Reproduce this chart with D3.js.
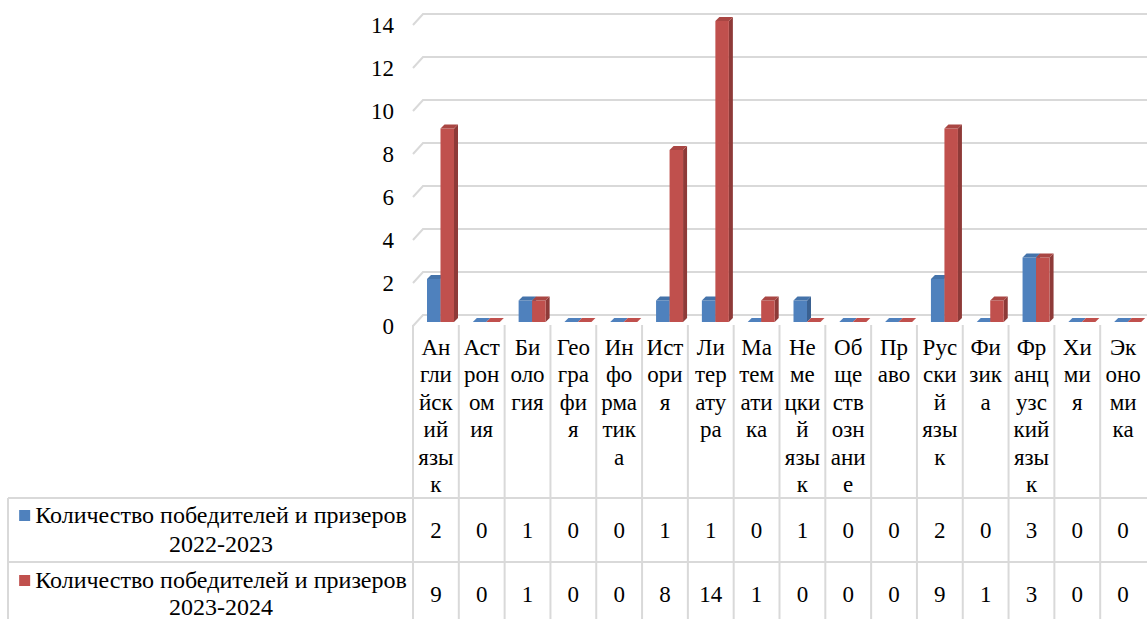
<!DOCTYPE html>
<html>
<head>
<meta charset="utf-8">
<script src="https://cdn.jsdelivr.net/npm/d3@7"></script>
<style>
  body { margin: 0; background: #fff; }
  #chart text { font-family: 'Liberation Serif', 'Times New Roman', serif; fill: #000; }
</style>
</head>
<body>
<svg id="chart" width="1147" height="619"></svg>
<script>
// subjects, with the line breaks Excel used in the data table header
var categories = ["Английский язык", "Астрономия", "Биология", "География", "Информатика",
  "История", "Литература", "Математика", "Немецкий язык", "Обществознание", "Право",
  "Русский язык", "Физика", "Французский язык", "Химия", "Экономика"];
var categoryLines = ["Ан|гли|йск|ий|язы|к", "Аст|рон|ом|ия", "Би|оло|гия", "Гео|гра|фи|я",
  "Ин|фо|рма|тик|а", "Ист|ори|я", "Ли|тер|ату|ра", "Ма|тем|ати|ка", "Не|ме|цки|й|язы|к",
  "Об|ще|ств|озн|ани|е", "Пр|аво", "Рус|ски|й|язы|к", "Фи|зик|а", "Фр|анц|узс|кий|язы|к",
  "Хи|ми|я", "Эк|оно|ми|ка"];

var seriesNames = ["Количество победителей и призеров 2022-2023",
                   "Количество победителей и призеров 2023-2024"];
var seriesLabel = ["Количество победителей и призеров", "Количество победителей и призеров"];
var seriesYears = ["2022-2023", "2023-2024"];
var values2022 = [2, 0, 1, 0, 0, 1, 1, 0, 1, 0, 0, 2, 0, 3, 0, 0];
var values2023 = [9, 0, 1, 0, 0, 8, 14, 1, 0, 0, 0, 9, 1, 3, 0, 0];
var yTicks = [0, 2, 4, 6, 8, 10, 12, 14];

var colors = [
  {front: "#4F81BD", side: "#3A6191", top: "#4473AA"},
  {front: "#C0504D", side: "#8E3A38", top: "#A94643"}
];
var series = [values2022, values2023];

var svg = d3.select("#chart");
var serif = "'Liberation Serif', 'Times New Roman', serif";
var fs = "23px";
var gridColor = "#D9D9D9";
var depth = 4;       // bar depth offset
var wallDx = 10, wallUp = 7, wallDown = 4;

var x = d3.scaleBand().domain(categories).range([413, 1146]).padding(0);
var y = d3.scaleLinear().domain([0, 14]).range([322, 21]);
var bw = x.bandwidth();

// gridlines on the back wall with the little floor diagonal
var grid = svg.append("g");
yTicks.forEach(function(v) {
  var yb = y(v) - wallUp, yf = y(v) + wallDown;
  grid.append("path")
    .attr("d", "M413," + yf + "L" + (413 + wallDx) + "," + yb + "L1147," + yb)
    .attr("fill", "none")
    .attr("stroke", gridColor)
    .attr("stroke-width", 2);
});

// y axis labels
var yAxis = svg.append("g")
  .attr("transform", "translate(397,4.5)")
  .call(d3.axisLeft(y).tickValues(yTicks).tickSize(0).tickPadding(3));
yAxis.attr("font-family", null).attr("font-size", null);
yAxis.select(".domain").remove();
yAxis.selectAll("text")
  .style("font-family", serif)
  .style("font-size", fs)
  .attr("fill", "#000");

// 3D-ish columns
var bars = svg.append("g");
series.forEach(function(vals, s) {
  var c = colors[s];
  vals.forEach(function(v, i) {
    var x0 = x(categories[i]) + 14 + s * 13.5;
    var x1 = x0 + 13.5;
    var yt = y(v), yb = y(0);
    var g = bars.append("g");
    // side
    g.append("path")
      .attr("d", "M" + x1 + "," + yt + "L" + (x1 + depth) + "," + (yt - depth) +
        "L" + (x1 + depth) + "," + (yb - depth) + "L" + x1 + "," + yb + "Z")
      .attr("fill", c.side);
    // front
    if (v > 0) {
      g.append("rect")
        .attr("x", x0).attr("y", yt)
        .attr("width", x1 - x0).attr("height", yb - yt)
        .attr("fill", c.front);
    }
    // top
    g.append("path")
      .attr("d", "M" + x0 + "," + yt + "L" + (x0 + depth) + "," + (yt - depth) +
        "L" + (x1 + depth) + "," + (yt - depth) + "L" + x1 + "," + yt + "Z")
      .attr("fill", v > 0 ? c.top : c.front);
  });
});

// data table
var table = svg.append("g");
var rowTops = [498, 562];
var tableBottom = 640;
x.domain().forEach(function(d) {
  table.append("line")
    .attr("x1", x(d)).attr("x2", x(d))
    .attr("y1", 325).attr("y2", tableBottom)
    .attr("stroke", gridColor).attr("stroke-width", 2);
});
table.append("line")
  .attr("x1", 8).attr("x2", 8).attr("y1", rowTops[0]).attr("y2", tableBottom)
  .attr("stroke", gridColor).attr("stroke-width", 2);
rowTops.forEach(function(ry) {
  table.append("line")
    .attr("x1", 8).attr("x2", 1147).attr("y1", ry).attr("y2", ry)
    .attr("stroke", gridColor).attr("stroke-width", 2);
});

// header labels
categories.forEach(function(d, i) {
  var t = table.append("text")
    .attr("text-anchor", "middle")
    .style("font-family", serif)
    .style("font-size", fs);
  categoryLines[i].split("|").forEach(function(part, k) {
    t.append("tspan")
      .attr("x", x(d) + bw / 2)
      .attr("y", 355 + k * 27.4)
      .text(part);
  });
});

// values
var valueBase = [538, 602];
series.forEach(function(vals, s) {
  vals.forEach(function(v, i) {
    table.append("text")
      .attr("x", x(categories[i]) + bw / 2)
      .attr("y", valueBase[s])
      .attr("text-anchor", "middle")
      .style("font-family", serif)
      .style("font-size", fs)
      .text(v);
  });
});

// legend keys in the row headers
var legendBase = [[523, 552], [588, 615]];
seriesNames.forEach(function(name, s) {
  var t1 = table.append("text")
    .attr("x", 221).attr("y", legendBase[s][0])
    .attr("text-anchor", "middle")
    .style("font-family", serif)
    .style("font-size", "24px")
    .text(seriesLabel[s]);
  table.append("text")
    .attr("x", 221).attr("y", legendBase[s][1])
    .attr("text-anchor", "middle")
    .style("font-family", serif)
    .style("font-size", "24px")
    .text(seriesYears[s]);
  var w = t1.node().getComputedTextLength();
  table.append("rect")
    .attr("x", 221 - w / 2 - 16).attr("y", legendBase[s][0] - 13)
    .attr("width", 11).attr("height", 11)
    .attr("fill", colors[s].front);
});
</script>
</body>
</html>
